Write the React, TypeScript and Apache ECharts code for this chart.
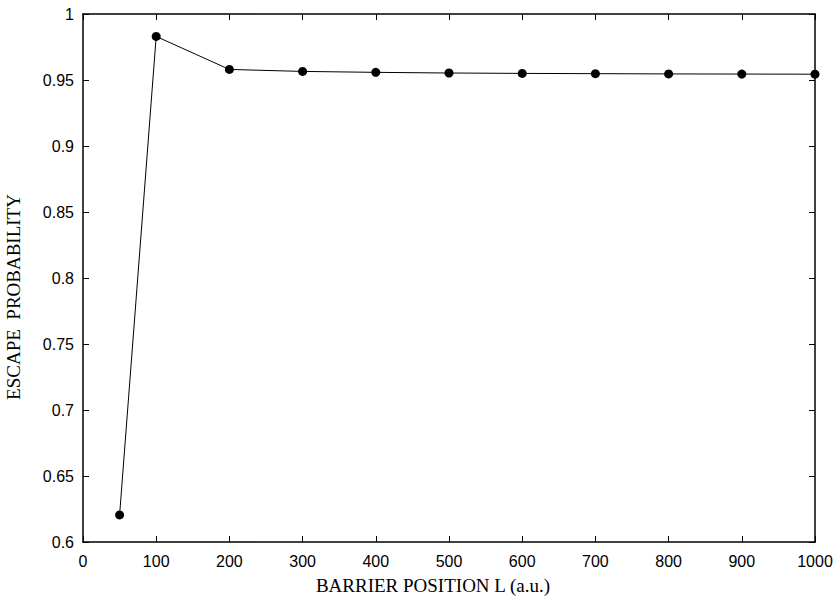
import React, { useEffect, useRef } from "react";
import * as echarts from "echarts";

const positions = [50, 100, 200, 300, 400, 500, 600, 700, 800, 900, 1000];
const escapeProb = [0.6205, 0.983, 0.958, 0.9565, 0.9558, 0.9553, 0.955, 0.9548, 0.9546, 0.9545, 0.9544];
const xTitle = "BARRIER POSITION L (a.u.)";
const yTitle = "ESCAPE  PROBABILITY";

export default function App() {
  const ref = useRef<HTMLDivElement>(null);
  useEffect(() => {
    if (!ref.current) return;
    const chart = echarts.init(ref.current, null, { renderer: "svg" });
    const tickFont = { fontFamily: "Liberation Sans, Arial, sans-serif", fontSize: 16, color: "#000" };
    const titleFont = "Liberation Serif, Times New Roman, serif";
    const baseX = {
      type: "value" as const,
      min: 0,
      max: 1000,
      interval: 100,
      axisLine: { show: true, onZero: false, lineStyle: { color: "#000", width: 1.5 } },
      axisTick: { show: true, inside: true, length: 6, lineStyle: { color: "#000", width: 1 } },
      splitLine: { show: false },
    };
    const baseY = {
      type: "value" as const,
      min: 0.6,
      max: 1,
      interval: 0.05,
      axisLine: { show: true, onZero: false, lineStyle: { color: "#000", width: 1.5 } },
      axisTick: { show: true, inside: true, length: 6, lineStyle: { color: "#000", width: 1 } },
      splitLine: { show: false },
    };
    chart.setOption({
      animation: false,
      backgroundColor: "#fff",
      grid: { left: 83, right: 24, top: 14, bottom: 59, containLabel: false },
      xAxis: [
        {
          ...baseX,
          position: "bottom",
          axisLabel: { ...tickFont, margin: 11, formatter: (v: number) => String(v) },
        },
        { ...baseX, position: "top", axisLabel: { show: false } },
      ],
      yAxis: [
        {
          ...baseY,
          position: "left",
          axisLabel: {
            ...tickFont,
            margin: 9,
            formatter: (v: number) => String(parseFloat(v.toFixed(2))),
          },
        },
        { ...baseY, position: "right", axisLabel: { show: false } },
      ],
      graphic: [
        {
          type: "text",
          x: 433,
          y: 585,
          style: {
            text: xTitle,
            font: `19px ${titleFont}`,
            fill: "#000",
            align: "center",
            verticalAlign: "middle",
          },
        },
        {
          type: "text",
          x: 13,
          y: 297,
          rotation: Math.PI / 2,
          style: {
            text: yTitle,
            font: `19px ${titleFont}`,
            fill: "#000",
            align: "center",
            verticalAlign: "middle",
          },
        },
      ],
      series: [
        {
          type: "line",
          data: positions.map((p, i) => [p, escapeProb[i]]),
          lineStyle: { color: "#000", width: 1 },
          itemStyle: { color: "#000" },
          symbol: "circle",
          symbolSize: 9,
          showSymbol: true,
          clip: false,
        },
      ],
    });
    return () => chart.dispose();
  }, []);
  return <div ref={ref} style={{ width: 839, height: 601, position: "absolute", left: 0, top: 0 }} />;
}
